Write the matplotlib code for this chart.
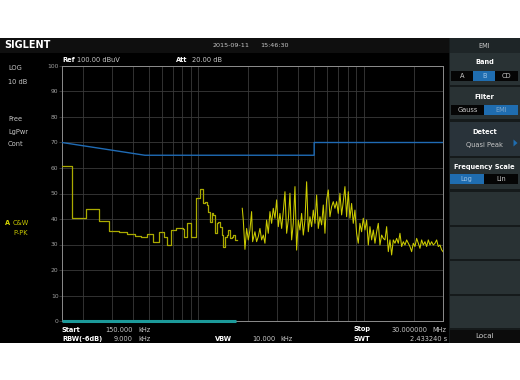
import matplotlib
matplotlib.use("Agg")
import matplotlib.pyplot as plt
from matplotlib.patches import Rectangle, Polygon

# quasi-peak scan part (stepped), MHz / dBuV
qp_freq = [0.150, 0.1717, 0.2094, 0.2520, 0.2894, 0.3327, 0.3687, 0.4122, 0.4498, 0.4911,
           0.5317, 0.5754, 0.6194, 0.6486, 0.6857, 0.7319, 0.8069, 0.8180, 0.8565, 0.8981,
           0.9667, 1.022, 1.061, 1.095, 1.121, 1.147, 1.174, 1.202, 1.230, 1.259,
           1.288, 1.318, 1.349, 1.381, 1.413, 1.446, 1.480, 1.515, 1.550, 1.587,
           1.624, 1.662, 1.701]
qp_level = [60.8, 40.3, 43.8, 39.2, 35.3, 34.9, 34.1, 33.4, 32.8, 34.2,
            31.1, 35.0, 33.1, 29.8, 35.7, 36.6, 36.0, 33.1, 38.3, 33.1,
            48.1, 51.6, 46.1, 46.8, 45.5, 42.9, 39.0, 42.2, 41.6, 34.4,
            38.3, 39.0, 37.0, 33.7, 28.9, 33.1, 33.7, 35.7, 32.4, 33.1,
            33.7, 31.8, 31.8]

# positive peak sweep part
pk_freq = [1.840, 1.866, 1.910, 1.955, 2.001, 2.047, 2.095, 2.125, 2.195, 2.246,
           2.299, 2.353, 2.408, 2.465, 2.522, 2.581, 2.642, 2.704, 2.767, 2.832,
           2.899, 2.967, 3.037, 3.108, 3.181, 3.255, 3.332, 3.410, 3.490, 3.572,
           3.655, 3.741, 3.829, 3.918, 4.010, 4.104, 4.200, 4.299, 4.400, 4.503,
           4.608, 4.716, 4.827, 4.940, 5.056, 5.174, 5.296, 5.420, 5.547, 5.677,
           5.810, 5.946, 6.085, 6.228, 6.374, 6.523, 6.676, 6.833, 6.993, 7.157,
           7.325, 7.496, 7.672, 7.852, 8.036, 8.224, 8.417, 8.614, 8.816, 9.023,
           9.234, 9.451, 9.672, 9.899,
           10.135, 10.373, 10.616, 10.865, 11.120, 11.381, 11.648, 11.921, 12.200, 12.486,
           12.779, 13.079, 13.386, 13.700, 14.021, 14.350, 14.686, 15.031, 15.383, 15.744,
           16.113, 16.491, 16.878, 17.274, 17.679, 18.093, 18.517, 18.952, 19.396, 19.851,
           20.316, 20.793, 21.280, 21.779, 22.290, 22.813, 23.348, 23.895, 24.455, 25.029,
           25.616, 26.216, 26.831, 27.460, 28.104, 28.763, 29.438, 30.0]
pk_level = [44.2, 39.6, 28.1, 36.3, 31.8, 35.7, 42.9, 31.1, 35.0, 31.1,
            33.1, 36.3, 31.8, 33.7, 30.5, 39.6, 34.4, 42.9, 38.3, 44.2,
            40.3, 47.5, 37.0, 42.2, 36.3, 42.9, 50.7, 34.4, 39.6, 50.1,
            31.8, 38.3, 52.7, 27.8, 39.6, 35.7, 42.2, 33.7, 39.6, 54.6,
            35.0, 40.9, 37.0, 43.5, 38.3, 49.4, 36.3, 40.9, 37.7, 45.5,
            34.4, 47.5, 51.4, 40.9, 44.8, 46.8, 44.2, 46.8, 42.2, 50.1,
            41.6, 46.8, 52.7, 40.9, 50.7, 40.3, 46.1, 38.3, 43.5, 34.4,
            30.5, 38.3, 35.0, 40.3,
            35.7, 39.6, 29.8, 37.0, 31.8, 35.7, 30.5, 35.0, 38.3, 29.8,
            33.7, 32.4, 31.8, 37.0, 27.2, 31.8, 25.9, 31.8, 30.5, 32.4,
            30.5, 34.4, 29.2, 31.1, 29.8, 31.8, 30.5, 29.2, 27.2, 30.5,
            29.2, 32.4, 30.5, 28.5, 31.8, 29.8, 31.1, 29.2, 31.8, 29.8,
            31.1, 29.8, 30.5, 31.8, 29.2, 29.8, 27.9, 27.2]

# limit line
limit_freq = [0.15, 0.475, 5.0, 5.0, 30.0]
limit_level = [70, 65, 65, 70, 70]

# scan progress bar (0 dB line)
progress_freq = [0.15, 1.69]

grid_freq = [0.2, 0.3, 0.4, 0.5, 0.6, 0.7, 0.8, 0.9, 1, 2, 3, 4, 5, 6, 7, 8, 9, 10, 20, 30]
y_ticks = list(range(0, 101, 10))

W, H = 520, 380
fig = plt.figure(figsize=(5.2, 3.8), dpi=100, facecolor="white")

# background layer in pixel coordinates of the screenshot
bg = fig.add_axes([0, 0, 1, 1], zorder=0)
bg.set_xlim(0, W)
bg.set_ylim(H, 0)
bg.axis("off")


def box(x0, y0, x1, y1, color, **kw):
    bg.add_patch(Rectangle((x0, y0), x1 - x0, y1 - y0, facecolor=color, edgecolor="none", **kw))


def txt(x, y, s, size=4.8, color="#c8c8c8", ha="left", weight="normal"):
    bg.text(x, y, s, fontsize=size, color=color, ha=ha, va="center", fontweight=weight,
            family="DejaVu Sans")


# screen
box(0, 38, W, 343, "black")
box(0, 38, 449, 52.5, "#0f0f0f")
# right panel
box(449.3, 38, W, 343, "#151a1b")
box(450, 38, W, 52.5, "#1e2527")
txt(484.5, 45.5, "EMI", ha="center")

BLUE = "#1f6db0"
# Band
box(450, 53.3, W, 84.5, "#293234")
txt(484.5, 62.5, "Band", color="white", ha="center", weight="bold")
box(450.7, 70.7, 473.3, 80.7, "#050505")
box(473.3, 70.7, 495.0, 80.7, BLUE)
box(495.0, 70.7, 518.3, 80.7, "#050505")
txt(462, 75.7, "A", ha="center")
txt(484.2, 75.7, "B", ha="center", color="#9cc3e6")
txt(506.7, 75.7, "CD", ha="center")
# Filter
box(450, 87.3, W, 118.5, "#293234")
txt(484.5, 96.7, "Filter", color="white", ha="center", weight="bold")
box(450.7, 104.7, 484.3, 114.7, "#050505")
box(484.3, 104.7, 518.3, 114.7, BLUE)
txt(467.5, 109.7, "Gauss", ha="center")
txt(501.3, 109.7, "EMI", ha="center", color="#7fa8cc")
# Detect
box(450, 122.3, W, 155.5, "#29333a")
txt(484.5, 132, "Detect", color="white", ha="center", weight="bold")
txt(484.5, 145, "Quasi Peak", ha="center")
bg.add_patch(Polygon([[513.5, 139.5], [513.5, 146.5], [517.5, 143]], closed=True,
                     facecolor=BLUE, edgecolor="none"))
# Frequency Scale
box(450, 157.5, W, 189, "#293234")
txt(484.5, 166.7, "Frequency Scale", color="white", ha="center", weight="bold")
box(449.5, 174, 484, 184, BLUE)
box(484, 174, 518.3, 184, "#050505")
txt(466.7, 179, "Log", ha="center", color="#9cc3e6")
txt(501.2, 179, "Lin", ha="center")
# empty soft keys
for y0, y1 in [(191.7, 225), (226.5, 259.3), (260.7, 294), (295.5, 328.3)]:
    box(450, y0, W, y1, "#293234")
box(450, 330, W, 343, "#0c0c0c")
txt(484.5, 336.5, "Local", ha="center", size=5.2)

# header
txt(4, 45.3, "SIGLENT", color="white", size=7, weight="bold")
txt(213, 45.5, "2015-09-11", size=4.6)
txt(260, 45.5, "15:46:30", size=4.6)
txt(62, 59.5, "Ref", color="white", weight="bold")
txt(77, 59.5, "100.00 dBuV")
txt(176, 59.5, "Att", color="white", weight="bold")
txt(192, 59.5, "20.00 dB")

# left status column
for y, s in [(68.3, "LOG"), (81.7, "10 dB"), (119.3, "Free"), (131.7, "LgPwr"), (144.3, "Cont")]:
    txt(8, y, s)
txt(4.5, 222.7, "A", color="#d8d800", weight="bold")
txt(13, 222.7, "C&W", color="#c8c800")
txt(13, 232.7, "P-PK", color="#c8c800")

# bottom info
txt(62, 330, "Start", color="white", weight="bold")
txt(133, 330, "150.000", ha="right")
txt(138, 330, "kHz")
txt(62, 339, "RBW(-6dB)", color="white", weight="bold")
txt(133, 339, "9.000", ha="right")
txt(138, 339, "kHz")
txt(215, 339, "VBW", color="white", weight="bold")
txt(276, 339, "10.000", ha="right")
txt(280, 339, "kHz")
txt(354, 329.5, "Stop", color="white", weight="bold")
txt(428, 329.5, "30.000000", ha="right")
txt(432, 329.5, "MHz")
txt(354, 339, "SWT", color="white", weight="bold")
txt(447, 339, "2.433240 s", ha="right")

# main graticule
x0, y0, x1, y1 = 62, 66, 443, 321
ax = fig.add_axes([x0 / W, 1 - y1 / H, (x1 - x0) / W, (y1 - y0) / H], zorder=2)
ax.set_facecolor("black")
ax.set_xscale("log")
ax.set_xlim(0.15, 30)
ax.set_ylim(0, 100)
ax.set_xticks(grid_freq)
ax.set_xticklabels([])
ax.xaxis.set_minor_locator(matplotlib.ticker.NullLocator())
ax.set_yticks(y_ticks)
ax.set_yticklabels([str(v) for v in y_ticks])
ax.tick_params(axis="x", length=0)
ax.tick_params(axis="y", length=2, width=0.5, color="#444444", pad=0.5,
               labelsize=4.3, labelcolor="#a0a0a0")
ax.grid(True, color="#3a3a3a", linewidth=0.6)
ax.set_axisbelow(True)
for sp in ax.spines.values():
    sp.set_color("#8c8c8c")
    sp.set_linewidth(0.7)

ax.plot(limit_freq, limit_level, color="#1f6bb5", linewidth=1.0, zorder=3)
ax.step(qp_freq, qp_level, where="post", color="#aaaa00", linewidth=0.9, zorder=4)
ax.plot(pk_freq, pk_level, color="#cccc00", linewidth=0.75, zorder=4)
ax.plot(progress_freq, [0, 0], color="#1c9a9a", linewidth=2.2, solid_capstyle="butt",
        zorder=5, clip_on=False)

fig.savefig("out.png", dpi=100, facecolor="white")
